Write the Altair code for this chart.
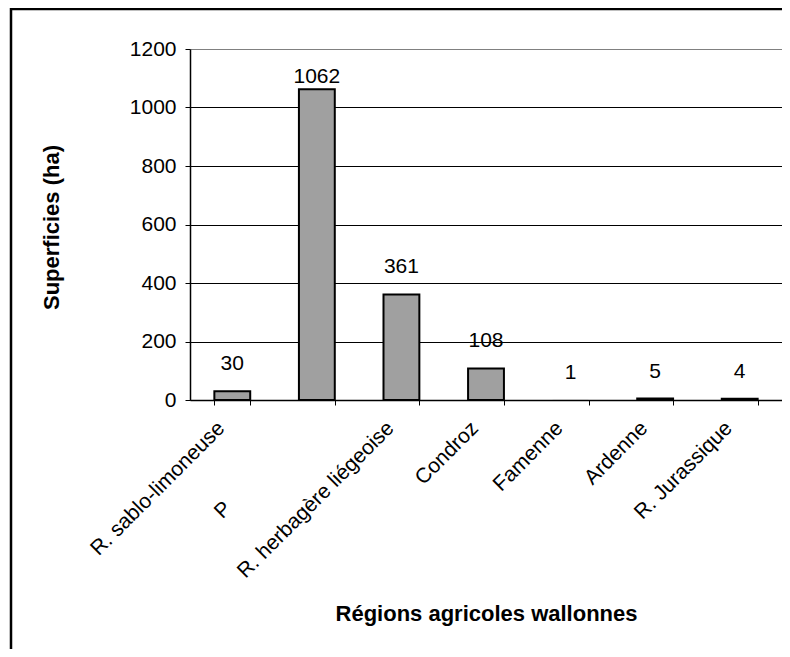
import altair as alt
import pandas as pd

regions = ["R. sablo-limoneuse", "P", "R. herbagère liégeoise", "Condroz",
           "Famenne", "Ardenne", "R. Jurassique"]
superficies = [30, 1062, 361, 108, 1, 5, 4]
y_ticks = [0, 200, 400, 600, 800, 1000, 1200]

df = pd.DataFrame({"region": regions, "superficie": superficies})

FONT = "Liberation Sans"

x_enc = alt.X(
    "region:N",
    sort=regions,
    scale=alt.Scale(paddingInner=0.576, paddingOuter=0.288),
    title="Régions agricoles wallonnes",
    axis=alt.Axis(
        labelAngle=315,
        labelAlign="right",
        labelBaseline="alphabetic",
        labelFontSize=21,
        labelFont=FONT,
        labelColor="black",
        labelLimit=0,
        labelOverlap=False,
        labelOffset={"condition": {"test": "datum.value === 'P'", "value": -85}, "value": -7},
        labelPadding={"condition": {"test": "datum.value === 'P'", "value": 104}, "value": 24},
        tickBand="extent",
        tickSize=5,
        tickColor="black",
        tickWidth=1,
        domainColor="black",
        domainWidth=1.5,
        grid=False,
        titleFont=FONT,
        titleFontSize=22,
        titleFontWeight="bold",
        titleColor="black",
        titleBaseline="top",
        titleY=203,
    ),
)

y_enc = alt.Y(
    "superficie:Q",
    scale=alt.Scale(domain=[0, 1200], nice=False),
    title="Superficies (ha)",
    axis=alt.Axis(
        values=y_ticks,
        format="d",
        labelFontSize=21,
        labelFont=FONT,
        labelColor="black",
        labelPadding=9,
        tickSize=5,
        tickColor="black",
        tickWidth=1,
        domainColor="black",
        domainWidth=1.5,
        grid=True,
        gridColor={"condition": {"test": "datum.value === 1200", "value": "#808080"}, "value": "black"},
        gridWidth=1,
        titleFont=FONT,
        titleFontSize=22,
        titleFontWeight="bold",
        titleColor="black",
        titleAngle=270,
        titleBaseline="middle",
        titleAlign="center",
        titleX=-139,
        titleY=178,
    ),
)

base = alt.Chart(df)

bars = base.mark_bar(fill="#a0a0a0", stroke="black", strokeWidth=2).encode(
    x=x_enc,
    y=y_enc,
    strokeOpacity=alt.condition("datum.superficie < 2", alt.value(0), alt.value(1)),
)

text_style = dict(font=FONT, fontSize=21, baseline="alphabetic", align="center", color="black")

labels_low = base.transform_filter("datum.superficie <= 1000").mark_text(dy=-21, **text_style).encode(
    x=x_enc, y=y_enc, text=alt.Text("superficie:Q", format="d"),
)
labels_high = base.transform_filter("datum.superficie > 1000").mark_text(dy=-6, **text_style).encode(
    x=x_enc, y=y_enc, text=alt.Text("superficie:Q", format="d"),
)

frame_data = alt.Data(values=[{"k": 0}])
frame = alt.Chart(frame_data).mark_rect(fill="transparent", stroke="black", strokeWidth=2.5).encode(
    x=alt.value(-179), x2=alt.value(700), y=alt.value(-40), y2=alt.value(800)
)

chart = alt.layer(bars, labels_low, labels_high, frame).properties(
    width=592,
    height=351,
    autosize=alt.AutoSizeParams(type="none"),
    padding={"left": 182, "top": 41, "right": 0, "bottom": 249},
    background="white",
).configure_view(stroke="#808080", strokeWidth=1.5).configure(font=FONT)

chart.save("out.html", embed_options={"renderer": "svg", "actions": False})
